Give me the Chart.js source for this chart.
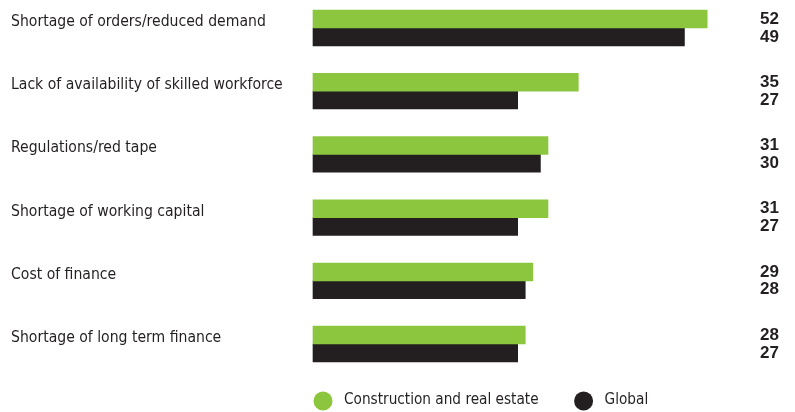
<!DOCTYPE html>
<html>
<head>
<meta charset="utf-8">
<script src="https://cdn.jsdelivr.net/npm/chart.js@4/dist/chart.umd.min.js"></script>
<style>
  body { margin: 0; background: #fff; }
  #wrap { position: relative; width: 795px; height: 412px; }
</style>
</head>
<body>
<div id="wrap"><canvas id="obstacles"></canvas></div>
<script>
var categories = [
  "Shortage of orders/reduced demand",
  "Lack of availability of skilled workforce",
  "Regulations/red tape",
  "Shortage of working capital",
  "Cost of finance",
  "Shortage of long term finance"
];
var construction = [52, 35, 31, 31, 29, 28];
var global = [49, 27, 30, 27, 28, 27];
var seriesNames = ["Construction and real estate", "Global"];

var green = "#8cc63f";
var dark = "#231f20";
var narrow = "'Liberation Sans Narrow', 'DejaVu Sans Condensed', 'Liberation Sans', sans-serif";

// numbers printed at the right edge, next to each bar
var valueLabels = {
  id: "valueLabels",
  afterDatasetsDraw: function (chart) {
    var ctx = chart.ctx;
    ctx.save();
    ctx.font = "bold 17px 'Liberation Sans', Arial, sans-serif";
    ctx.fillStyle = dark;
    ctx.textAlign = "right";
    ctx.textBaseline = "middle";
    chart.data.datasets.forEach(function (ds, i) {
      chart.getDatasetMeta(i).data.forEach(function (bar, j) {
        ctx.fillText(ds.data[j], 779, bar.y);
      });
    });
    ctx.restore();
  }
};

// round-dot legend under the bars
var dotLegend = {
  id: "dotLegend",
  afterDraw: function (chart) {
    var ctx = chart.ctx;
    var x = chart.chartArea.left;
    var y = 401;
    ctx.save();
    ctx.font = "15.2px " + narrow;
    ctx.textBaseline = "middle";
    ctx.textAlign = "left";
    chart.data.datasets.forEach(function (ds) {
      ctx.fillStyle = ds.backgroundColor;
      ctx.beginPath();
      ctx.arc(x + 10, y, 9.5, 0, Math.PI * 2);
      ctx.fill();
      ctx.fillStyle = dark;
      ctx.fillText(ds.label, x + 31, y - 1);
      x += 31 + ctx.measureText(ds.label).width + 35;
    });
    ctx.restore();
  }
};

var ctx = document.getElementById("obstacles").getContext("2d");
var chart = new Chart(ctx, {
  type: "bar",
  data: {
    labels: categories,
    datasets: [
      {
        label: seriesNames[0],
        data: construction,
        backgroundColor: green,
        barThickness: 17.8,
        clip: false
      },
      {
        label: seriesNames[1],
        data: global,
        backgroundColor: dark,
        barThickness: 17.8,
        clip: false
      }
    ]
  },
  options: {
    indexAxis: "y",
    responsive: true,
    maintainAspectRatio: false,
    animation: false,
    events: [],
    layout: {
      padding: { left: 11, right: 57.5, top: 28, bottom: 68 }
    },
    scales: {
      x: {
        display: false,
        min: 0,
        max: 56
      },
      y: {
        offset: false,
        grid: { display: false },
        border: { display: false },
        afterFit: function (scale) {
          scale.width = 302;
        },
        ticks: {
          crossAlign: "far",
          labelOffset: -6,
          color: dark,
          font: { family: narrow, size: 15.6 }
        }
      }
    },
    plugins: {
      legend: { display: false },
      tooltip: { enabled: false }
    }
  },
  plugins: [valueLabels, dotLegend]
});
</script>
</body>
</html>
